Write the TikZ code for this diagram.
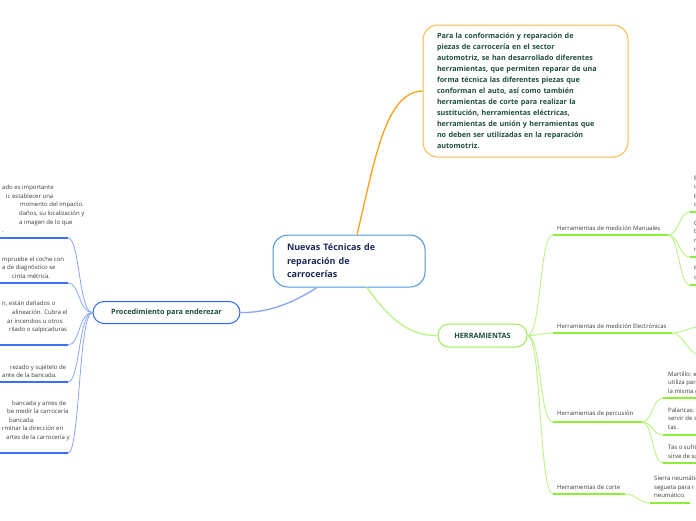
\documentclass[tikz,border=0pt]{standalone}
\usepackage{fontspec}
\setmainfont{Open Sans}
\usetikzlibrary{positioning}

\definecolor{rootblue}{HTML}{4A97D8}
\definecolor{rootink}{HTML}{1B2A55}
\definecolor{leafink}{HTML}{1D4D3A}
\definecolor{txtgray}{HTML}{3A3A3A}
\definecolor{obrd}{HTML}{F8B94C}
\definecolor{oline}{HTML}{F7A21B}
\definecolor{bbrd}{HTML}{2F66F0}
\definecolor{bline}{HTML}{85A5F8}
\definecolor{bbar}{HTML}{3D6FF2}
\definecolor{gbrd}{HTML}{9FE85A}
\definecolor{gline}{HTML}{B8F282}
\definecolor{gbar}{HTML}{8CED3A}

\tikzset{
  small/.style={font=\fontsize{6}{8.6}\selectfont, text=txtgray, inner sep=0pt, align=left, anchor=west},
  bluelink/.style={draw=bline, line width=0.8pt},
  bluebar/.style={draw=bbar, line width=2pt},
  greenlink/.style={draw=gline, line width=0.9pt},
  greenbar/.style={draw=gbar, line width=2pt}
}

\begin{document}
\begin{tikzpicture}[x=1pt,y=-1pt]
\useasboundingbox (0,0) rectangle (696,520);
\clip (0,0) rectangle (696,520);

% Central topic
\node[draw=rootblue, line width=1pt, rounded corners=15pt, minimum width=152pt,
  minimum height=52pt, text width=124pt, inner xsep=14pt, align=left, text=rootink,
  font=\bfseries\fontsize{9}{13.5}\selectfont] (root) at (349,261)
  {Nuevas Técnicas de\\reparación de\\carrocerías};

% Description box
\node[draw=obrd, line width=1pt, rounded corners=15pt, minimum width=205pt,
  minimum height=132pt, text width=177pt, inner xsep=14pt, align=left, text=leafink,
  font=\bfseries\fontsize{7.2}{11}\selectfont] (desc) at (525.5,91)
  {Para la conformación y reparación de\\
   piezas de carrocería en el sector\\
   automotriz, se han desarrollado diferentes\\
   herramientas, que permiten reparar de una\\
   forma técnica las diferentes piezas que\\
   conforman el auto, así como también\\
   herramientas de corte para realizar la\\
   sustitución, herramientas eléctricas,\\
   herramientas de unión y herramientas que\\
   no deben ser utilizadas en la reparación\\
   automotriz.};
\draw[oline, line width=1.3pt] ([xshift=8pt]root.north) .. controls (375,160) and (385,92) .. (desc.west);

% Left branch
\node[draw=bbrd, line width=1pt, rounded corners=11pt, minimum width=147pt,
  minimum height=22pt, text=leafink, font=\bfseries\fontsize{7.3}{9}\selectfont]
  (proc) at (166.5,312.5) {Procedimiento para enderezar};
\draw[bline, line width=1.3pt] ([xshift=-32pt]root.south) .. controls (290,305) and (265,313) .. (proc.east);

\foreach \i/\y in {1/238, 2/283, 3/345, 4/382, 5/453} {
  \coordinate (pa\i) at (68,\y);
  \coordinate (pb\i) at (0,\y);
  \draw[bluelink] (proc.west) .. controls +(-14,0) and +(12,0) .. (pa\i);
  \draw[bluebar] (pa\i) -- (pb\i);
}

% steps, one line at a time (cut by the left edge)
\foreach \x/\y/\t [count=\k] in {2/187/ado es importante, 6/196/ic establecer una,
    20/204/momento del impacto., {19/213/daños, su localización y},
    19/222/a imagen de lo que, 2/230/.,
    2/259/mpruebe el coche con, 2/267/a de diagnóstico se, 12/276/cinta métrica.,
    {2/303/n, están dañados o}, 12/312/alineación. Cubra el,
    7/321/ar incendios u otros, 9/329/rilado o salpicaduras,
    10/367/rezado y sujételo de, 2/375/ante de la bancada.,
    12/403/bancada y antes de, 7/411/be medir la carrocería, 9/420/bancada.,
    2/428/rminar la dirección en, 6/437/artes de la carrocería y} {
  \node[small, anchor=base west] (step\k) at (\x,\y+2) {\t};
}

% Right branch
\node[draw=gbrd, line width=1pt, rounded corners=11pt, minimum width=89pt,
  minimum height=23pt, text=leafink, font=\bfseries\fontsize{7.3}{9}\selectfont]
  (herr) at (482.5,335.5) {HERRAMIENTAS};
\draw[gline, line width=1.3pt] ([xshift=18pt]root.south) .. controls (390,320) and (410,336) .. (herr.west);

\foreach \n/\y/\e in {man/235/668, elec/333/672, perc/422/642, cort/494/625} {
  \coordinate (\n-a) at (553,\y);
  \coordinate (\n-b) at (\e,\y);
  \draw[greenlink] (herr.east) .. controls +(14,0) and +(-14,0) .. (\n-a);
  \draw[greenbar] (\n-a) -- (\n-b);
}
\node[small] (man) at (557,228) {Herramientas de medición Manuales};
\node[small] (elec) at (557,326) {Herramientas de medición Electrónicas};
\node[small] (perc) at (557,414) {Herramientas de percusión};
\node[small] (cort) at (557,487) {Herramientas de corte};

% Leaves of the tool groups
\foreach \n/\i/\x/\y in {man/1/690/212, man/2/690/257, man/3/690/285,
    elec/1/700/327, elec/2/700/355,
    perc/1/663/398, perc/2/663/435, perc/3/663/463, cort/1/650/503} {
  \coordinate (\n\i) at (\x,\y);
  \draw[greenlink] (\n-b) .. controls +(11,0) and +(-11,0) .. (\n\i);
  \draw[greenbar] (\n\i) -- ++(40,0);
}

\node[small] (man1t) at (694,191) {E\\u\\p\\c};
\node[small] (man2t) at (694,236) {C\\t\\r\\r};
\node[small] (man3t) at (694,273) {F\\c};
\node[small] (perc1t) at (668,382.5) {Martillo: el\\utiliza para\\la misma d};
\node[small] (perc2t) at (668,418.5) {Palancas: l\\servir de s\\tas.};
\node[small] (perc3t) at (668,452) {Tas o sufri\\sirve de su};
\node[small] (cort1t) at (654,487) {Sierra neumátic\\segueta para r\\neumático.};

\end{tikzpicture}
\end{document}
